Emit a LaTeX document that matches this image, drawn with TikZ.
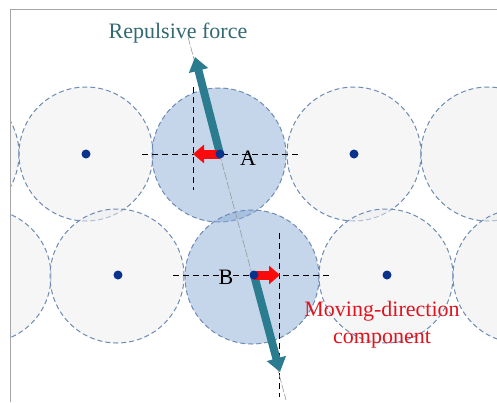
\documentclass[tikz,border=0pt]{standalone}
\usepackage{fontspec}
\setmainfont{Liberation Serif}
\usetikzlibrary{arrows.meta}
\definecolor{ringblue}{RGB}{110,140,180}
\definecolor{cellgray}{RGB}{238,238,240}
\definecolor{cellblue}{RGB}{140,172,214}
\definecolor{forceteal}{RGB}{42,124,142}
\definecolor{labelteal}{RGB}{50,105,115}
\definecolor{dotblue}{RGB}{8,50,140}
\definecolor{pushred}{RGB}{250,10,10}
\definecolor{textred}{RGB}{225,20,30}
\begin{document}
\begin{tikzpicture}[x=1pt,y=-1pt,
    cell/.style={draw=ringblue, line width=1pt, dash pattern=on 5pt off 3pt, fill=cellgray, fill opacity=0.5},
    active/.style={cell, fill=cellblue},
    axis/.style={black, line width=0.8pt, dash pattern=on 6pt off 4pt},
    force/.style={forceteal, line width=8pt, -{Triangle[length=14pt,width=19pt]}},
    push/.style={pushred, line width=9pt, -{Triangle[length=11pt,width=18pt]}},
    centre/.style={circle, fill=dotblue, inner sep=0pt, minimum size=9pt},
    tag/.style={font=\fontsize{22}{26}\selectfont}]
  \useasboundingbox (0,0) rectangle (497,402);
  \fill[white] (0,0) rectangle (497,402);
  \coordinate (A) at (220,154);
  \coordinate (B) at (254,275);
  \begin{scope}
    \clip (10,9) rectangle (497,402);
    \path[cell] (-48,154) circle (67);
    \path[cell] (86,154) circle (67);
    \path[active] (219,155) circle (67);
    \path[cell] (354,154) circle (67);
    \path[cell, fill=gray!15] (488,154) circle (67);
    \path[cell] (-16,276) circle (67);
    \path[cell] (117,276) circle (67);
    \path[active] (252,277) circle (67);
    \path[cell] (386,276) circle (67);
    \path[cell, fill=gray!15] (520,276) circle (67);
  \end{scope}
  \draw[gray!70, line width=1pt] (10,402) -- (10,9) -- (497,9);
  \coordinate (axisAl) at (142,154);
  \coordinate (axisAr) at (299,154);
  \coordinate (axisAt) at (193,87);
  \coordinate (axisAb) at (193,190);
  \coordinate (axisBl) at (173,275);
  \coordinate (axisBr) at (330,275);
  \coordinate (axisBt) at (279,233);
  \coordinate (axisBb) at (279,397);
  \coordinate (lineTop) at (188,37);
  \coordinate (lineBot) at (286,400);
  \draw[axis] (axisAl) -- (axisAr);
  \draw[axis] (axisAt) -- (axisAb);
  \draw[axis] (axisBl) -- (axisBr);
  \draw[axis] (axisBt) -- (axisBb);
  \draw[gray!80, line width=0.6pt, dash pattern=on 8pt off 2pt] (lineTop) -- (lineBot);
  \coordinate (forceA) at (195,57);
  \coordinate (forceB) at (280,372);
  \coordinate (pushA) at (193,154);
  \coordinate (pushB) at (280,275);
  \draw[force] (A) -- (forceA);
  \draw[force] (B) -- (forceB);
  \draw[push] (A) -- (pushA);
  \draw[push] (B) -- (pushB);
  \node[centre] (dotA) at (A) {};
  \node[centre] (dotB) at (B) {};
  \node[centre] (dot1) at (86,154) {};
  \node[centre] (dot2) at (354,154) {};
  \node[centre] (dot3) at (118,275) {};
  \node[centre] (dot4) at (387,275) {};
  \node[tag] (labA) at (248,158) {A};
  \node[tag] (labB) at (226,277) {B};
  \node[tag, text=labelteal] (repulse) at (178,33) {Repulsive force};
  \node[tag, text=textred, align=center, font=\fontsize{22}{27}\selectfont] (moving) at (382,325) {Moving-direction\\component};
\end{tikzpicture}
\end{document}
